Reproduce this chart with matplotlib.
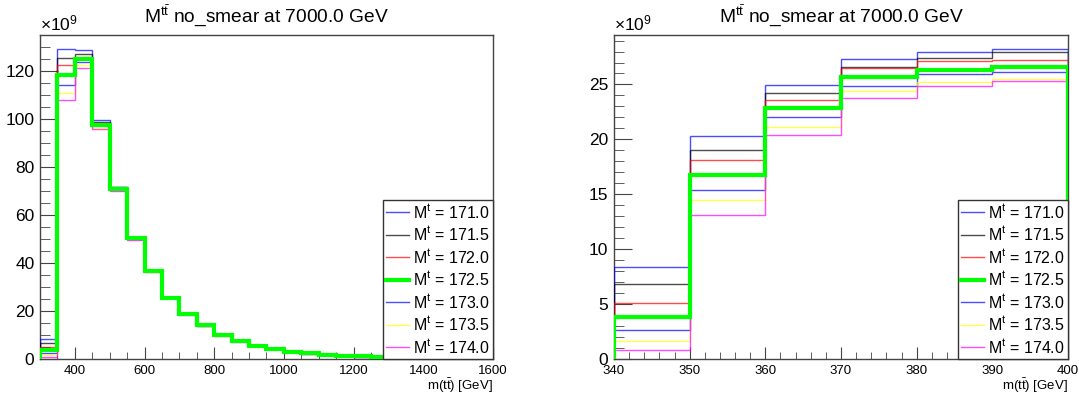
import numpy as np
import matplotlib
matplotlib.use("Agg")
import matplotlib.pyplot as plt
from matplotlib.ticker import MultipleLocator

plt.rcParams['font.family'] = ['Liberation Sans', 'DejaVu Sans']
plt.rcParams['mathtext.default'] = 'regular'

masses = ['171.0', '171.5', '172.0', '172.5', '173.0', '173.5', '174.0']
colors = ['#0000ff', '#000000', '#ff0000', '#00ff00', '#0000ff', '#ffff00', '#ff00ff']

# left panel: 50 GeV bins 300..1600, values in units of 1e9
edges_full = np.arange(300, 1601, 50)
full_1710 = [8.3, 129.2, 128.8, 99.6, 71.8, 51.0, 36.9, 25.9, 19.0, 14.2, 10.1, 7.7, 5.8,
             4.4, 3.3, 2.4, 1.9, 1.5, 1.2, 0.9, 0.65, 0.5, 0.38, 0.3, 0.22, 0.17]
full_1715 = [6.8, 125.5, 126.9, 98.8, 71.5, 50.8, 36.8, 25.8, 18.9, 14.1, 10.0, 7.6, 5.7,
             4.3, 3.2, 2.4, 1.8, 1.4, 1.1, 0.85, 0.62, 0.48, 0.37, 0.28, 0.21, 0.16]
full_1720 = [5.0, 122.5, 125.9, 98.2, 71.2, 50.5, 36.7, 25.7, 18.9, 14.0, 10.0, 7.5, 5.6,
             4.2, 3.1, 2.3, 1.8, 1.4, 1.1, 0.82, 0.61, 0.46, 0.36, 0.27, 0.2, 0.15]
full_1725 = [3.7, 118.2, 125.1, 97.5, 70.9, 50.3, 36.6, 25.6, 18.8, 14.0, 9.9, 7.5, 5.6,
             4.2, 3.1, 2.3, 1.8, 1.4, 1.1, 0.8, 0.6, 0.45, 0.35, 0.27, 0.2, 0.15]
full_1730 = [2.6, 114.3, 123.9, 97.0, 70.6, 50.0, 36.5, 25.5, 18.7, 13.9, 9.8, 7.4, 5.5,
             4.1, 3.0, 2.2, 1.7, 1.3, 1.0, 0.78, 0.58, 0.44, 0.34, 0.26, 0.19, 0.14]
full_1735 = [1.6, 111.0, 122.5, 96.4, 70.3, 49.8, 36.3, 25.4, 18.6, 13.8, 9.7, 7.3, 5.4,
             4.0, 3.0, 2.2, 1.7, 1.3, 1.0, 0.76, 0.56, 0.43, 0.33, 0.25, 0.19, 0.14]
full_1740 = [0.85, 107.9, 121.1, 95.8, 70.0, 49.6, 36.2, 25.3, 18.5, 13.7, 9.6, 7.2, 5.3,
             4.0, 2.9, 2.1, 1.6, 1.2, 0.95, 0.74, 0.55, 0.42, 0.32, 0.24, 0.18, 0.13]

# right panel: 10 GeV bins 340..400
edges_zoom = np.arange(340, 401, 10)
zoom_1710 = [8.4, 20.33, 24.97, 27.33, 28.0, 28.24]
zoom_1715 = [6.85, 19.0, 24.24, 26.58, 27.4, 27.97]
zoom_1720 = [5.1, 18.1, 23.55, 26.5, 27.1, 27.2]
zoom_1725 = [3.8, 16.8, 22.9, 25.64, 26.36, 26.55]
zoom_1730 = [2.6, 15.4, 22.03, 24.88, 25.94, 26.1]
zoom_1735 = [1.65, 14.5, 21.15, 24.45, 25.24, 25.5]
zoom_1740 = [0.85, 13.15, 20.36, 23.8, 24.88, 25.36]

full = [full_1710, full_1715, full_1720, full_1725, full_1730, full_1735, full_1740]
zoom = [zoom_1710, zoom_1715, zoom_1720, zoom_1725, zoom_1730, zoom_1735, zoom_1740]

title = r"M$^{t\bar{t}}$ no_smear at 7000.0 GeV"
xlab = r"m(t$\bar{t}$) [GeV]"

fig = plt.figure(figsize=(10.79, 3.94), dpi=100)
ax1 = fig.add_axes([40/1079, 1-359/394, 453/1079, 324.5/394])
ax2 = fig.add_axes([614/1079, 1-359/394, 454/1079, 324.5/394])


def draw(ax, edges, data, xlim, ylim, xmaj, xmin, ymaj, ymin):
    for i, vals in enumerate(data):
        if masses[i] == '172.5':
            ax.stairs(vals, edges, color=colors[i], lw=3, zorder=5,
                      label='M$^{t}$ = ' + masses[i])
        else:
            ax.stairs(vals, edges, color=colors[i], lw=1, alpha=0.7, zorder=3,
                      label='M$^{t}$ = ' + masses[i])
    ax.set_xlim(*xlim)
    ax.set_ylim(*ylim)
    ax.xaxis.set_major_locator(MultipleLocator(xmaj))
    ax.xaxis.set_minor_locator(MultipleLocator(xmin))
    ax.yaxis.set_major_locator(MultipleLocator(ymaj))
    ax.yaxis.set_minor_locator(MultipleLocator(ymin))
    ax.tick_params(axis='y', which='major', direction='in', length=13, labelsize=12.5,
                   pad=4, color='#444444')
    ax.tick_params(axis='y', which='minor', direction='in', length=7, color='#444444')
    ax.tick_params(axis='x', which='major', direction='in', length=9, labelsize=9.5,
                   pad=4, color='#444444')
    ax.tick_params(axis='x', which='minor', direction='in', length=5, color='#444444')
    for s in ax.spines.values():
        s.set_color('#444444')
        s.set_linewidth(1)
    ax.set_xlabel(xlab, loc='right', fontsize=9.5, labelpad=0)
    ax.text(0.5, 1.055, title, transform=ax.transAxes, ha='center', va='center',
            fontsize=13.8)
    ax.text(0.0, 1.003, r'$\times$10$^{9}$', transform=ax.transAxes, ha='left',
            va='bottom', fontsize=12.5)
    leg = ax.legend(loc='lower right', bbox_to_anchor=(1.0, 0.0), borderaxespad=0,
                    fontsize=11.5, frameon=True, fancybox=False, framealpha=1,
                    edgecolor='#333333', handlelength=1.45, handletextpad=0.25,
                    labelspacing=0.28, borderpad=0.2)
    leg.get_frame().set_linewidth(1)
    leg.set_zorder(10)


draw(ax1, edges_full, full, (300, 1600), (0, 135.2), 200, 50, 20, 5)
draw(ax2, edges_zoom, zoom, (340, 400), (0, 29.55), 10, 2, 5, 1)

fig.savefig('out.png', dpi=100)
